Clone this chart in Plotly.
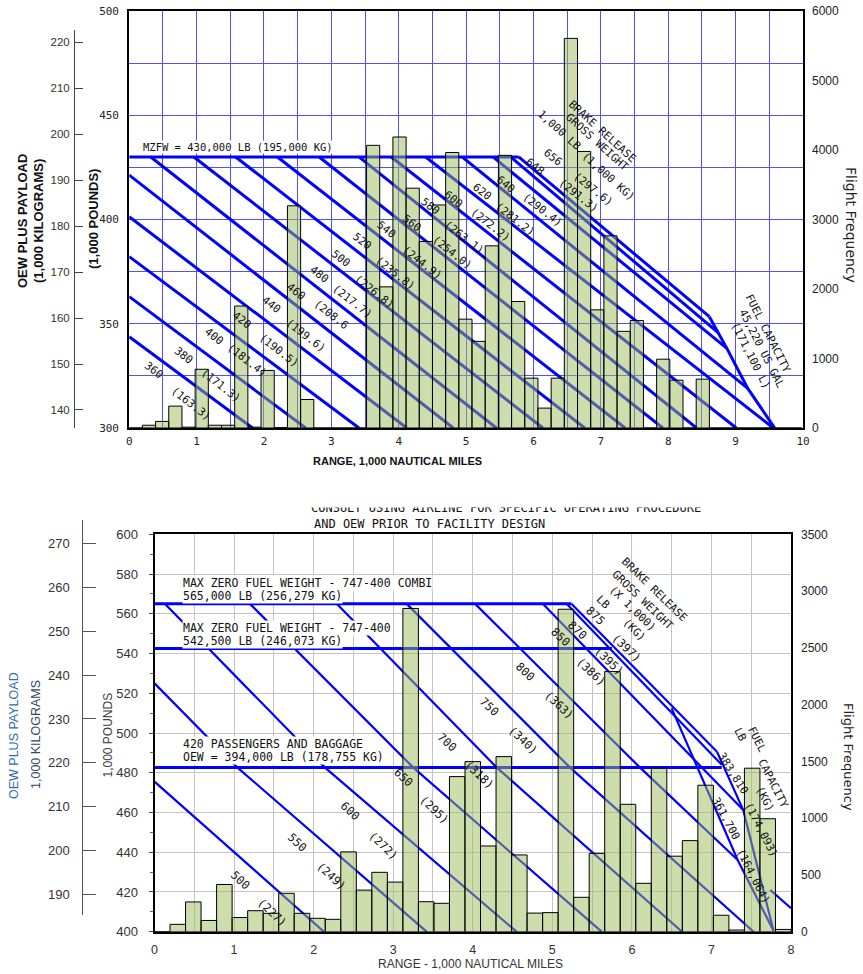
import plotly.graph_objects as go

W, H = 863, 974
LB_PER_KG = 2.20462

# ====================== DATA ======================
# ---- Top chart: flight frequency per 200-nm bin (bin start, 1,000 NM) ----
top_bin_start = [0.0, 0.2, 0.4, 0.6, 0.8, 1.0, 1.2, 1.4, 1.6, 1.8,
                 2.0, 2.2, 2.4, 2.6, 2.8, 3.0, 3.2, 3.4, 3.6, 3.8,
                 4.0, 4.2, 4.4, 4.6, 4.8, 5.0, 5.2, 5.4, 5.6, 5.8,
                 6.0, 6.2, 6.4, 6.6, 6.8, 7.0, 7.2, 7.4, 7.6, 7.8,
                 8.0, 8.2, 8.4, 8.6, 8.8, 9.0, 9.2, 9.4, 9.6, 9.8, 10.0]
top_freq = [0, 40, 95, 315, 12, 845, 40, 40, 1755, 12,
            828, 5, 3197, 410, 0, 0, 0, 0, 4067, 2031,
            4187, 3451, 2684, 3209, 3964, 1566, 1247, 2621, 3923, 1820,
            717, 286, 717, 5606, 3979, 1700, 2765, 1391, 1547, 0,
            990, 688, 0, 703, 0, 0, 0, 0, 0, 0, 0]

# ---- Bottom chart: flight frequency per 200-nm bin ----
bot_bin_start = [0.0, 0.2, 0.4, 0.6, 0.8, 1.0, 1.2, 1.4, 1.6, 1.8,
                 2.0, 2.2, 2.4, 2.6, 2.8, 3.0, 3.2, 3.4, 3.6, 3.8,
                 4.0, 4.2, 4.4, 4.6, 4.8, 5.0, 5.2, 5.4, 5.6, 5.8,
                 6.0, 6.2, 6.4, 6.6, 6.8, 7.0, 7.2, 7.4, 7.6, 7.8, 8.0]
bot_freq = [0, 65, 262, 99, 416, 125, 185, 162, 338, 162,
            118, 109, 703, 366, 523, 437, 2847, 264, 250, 1366,
            1498, 755, 1542, 676, 164, 168, 2840, 303, 690, 2291,
            1122, 426, 1440, 665, 802, 1290, 145, 15, 1440, 995, 20]

# ---- Top payload/range diagram (x: 1,000 NM, y: 1,000 LB) ----
top_brgw_lb = ["360", "380", "400", "420", "440", "460", "480", "500", "520",
               "540", "560", "580", "600", "620", "640", "648", "656"]
top_brgw_kg = ["(163.3)", "(171.3)", "(181.4)", "(190.5)", "(199.6)", "(208.6",
               "(217.7)", "(226.8)", "(235.8)", "(244.9)", "(254.0)", "(263.1)",
               "(272.2)", "(281.2)", "(290.4)", "(291.3)", "(297.6)"]
top_line_x = [[0, 1.83], [0, 2.62], [0, 3.41], [0, 4.12], [0, 4.81],
              [0.32, 5.45], [0.96, 6.14], [1.58, 6.76], [2.20, 7.36],
              [2.82, 7.92], [3.41, 8.42], [3.89, 9.01], [4.40, 9.56],
              [4.94, 9.18], [5.40, 8.87], [5.66, 8.74], [5.78, 8.61]]
top_line_y = [[343.8, 300], [363.0, 300], [382.2, 300], [401.3, 300], [421.3, 300],
              [430, 300], [430, 300], [430, 300], [430, 300],
              [430, 300], [430, 300], [430, 300], [430, 300],
              [430, 319.0], [430, 338.2], [430, 345.7], [430, 353.4]]
top_mzfw_x = [0, 5.78]
top_mzfw_y = [430, 430]
top_fuel_x = [8.61, 8.74, 8.87, 9.18, 9.58]
top_fuel_y = [353.4, 345.7, 338.2, 319.0, 300]
top_grid_x = [0, 0.5, 1, 1.5, 2, 2.5, 3, 3.5, 4, 4.5, 5, 5.5, 6, 6.5, 7, 7.5, 8, 8.5, 9, 9.5, 10]
top_grid_y = [300, 325, 350, 375, 400, 425, 450, 475, 500]

# ---- Bottom payload/range diagram ----
bot_brgw_lb = ["500", "550", "600", "650", "700", "750", "800", "850", "870", "875"]
bot_brgw_kg = ["(227)", "(249)", "(272)", "(295)", "(318)", "(340)", "(363)",
               "(386)", "(395)", "(397)"]
bot_line_x = [[0, 2.13], [0, 1.04, 3.42], [0.13, 2.14, 4.55], [1.20, 3.25, 5.62],
              [2.29, 4.30, 6.63], [3.17, 5.22, 7.53],
              [4.03, 6.10, 7.33, None, 7.74, 8.0],
              [4.88, 7.40], [5.18, 7.13], [5.24, 7.07]]
bot_line_y = [[475.5, 400], [525.0, 482.7, 400], [565, 482.7, 400], [565, 482.7, 400],
              [565, 482.7, 400], [565, 482.7, 400],
              [565, 482.7, 436.1, None, 421.0, 411.8],
              [565, 461.2], [565, 484.0], [565, 490.6]]
bot_combi_x, bot_combi_y = [0, 5.24], [565, 565]
bot_mzfw_x, bot_mzfw_y = [0, 5.75], [542.5, 542.5]
bot_oew_x, bot_oew_y = [0, 7.13], [482.7, 482.7]
bot_fuel383_x, bot_fuel383_y = [7.07, 7.40, 7.78], [490.6, 461.2, 400.5]
bot_fuel361_x, bot_fuel361_y = [6.50, 7.33, 7.78], [512.4, 436.1, 400.5]

# ====================== LABEL PLACEMENT ======================
top_lb_label_xy = [(0.37, 327.8), (0.81, 335.0), (1.26, 343.8), (1.68, 351.8), (2.10, 359.0),
                   (2.47, 365.4), (2.82, 373.4), (3.14, 381.4), (3.46, 389.4), (3.81, 395.0),
                   (4.20, 398.2), (4.47, 406.1), (4.81, 409.4), (5.23, 413.3), (5.59, 417.0),
                   (6.02, 425.3), (6.29, 429.8)]
top_kg_label_xy = [(0.91, 311.8), (1.36, 320.6), (1.75, 332.6), (2.22, 337.4), (2.62, 344.6),
                   (2.99, 354.2), (3.31, 360.6), (3.63, 365.4), (3.95, 374.2), (4.34, 379.4),
                   (4.79, 384.2), (4.97, 391.5), (5.35, 397.4), (5.73, 400.2), (6.12, 404.6),
                   (6.66, 411.3), (6.89, 414.5)]
bot_lb_label_xy = [(1.078, 426.0), (1.803, 444.8), (2.461, 460.9), (3.124, 477.7), (3.677, 495.6),
                   (4.214, 513.2), (4.667, 530.9), (5.103, 548.2), (5.313, 551.8), (5.547, 558.9)]
bot_kg_label_xy = [(1.488, 409.6), (2.222, 428.0), (2.881, 443.1), (3.522, 461.2), (4.088, 478.9),
                   (4.633, 496.5), (5.086, 514.1), (5.493, 530.9), (5.715, 536.4), (5.933, 542.6)]

# ====================== STYLE ======================
CAD = "DejaVu Sans Mono, monospace"
SANS = "Liberation Sans, Arial, sans-serif"
VERD = "DejaVu Sans, Verdana, sans-serif"
BLUE = "#0000ff"
GRID_BLUE = "#5050ff"
GRID_GREY = "#c4c4c4"
BAR_FILL = "rgba(155,187,89,0.5)"
TXT = "#111111"

# plot frames in pixels (left, right, top, bottom)
TL, TR, TT, TB = 129.2, 803.0, 11.0, 428.0
BL, BR, BT, BB = 154.5, 791.0, 534.3, 931.7


def pdx(px):
    return px / W


def pdy(py):
    return 1 - py / H


def top_lb_at(py):
    return 300 + (TB - py) * 200.0 / (TB - TT)


def bot_lb_at(py):
    return 400 + (BB - py) * 200.0 / (BB - BT)


fig = go.Figure()


def add_line(xs, ys, xa, ya, width):
    fig.add_trace(go.Scatter(x=xs, y=ys, mode="lines", xaxis=xa, yaxis=ya,
                             line=dict(color=BLUE, width=width),
                             hoverinfo="skip", showlegend=False))


# top diagram
for xs, ys in zip(top_line_x, top_line_y):
    add_line(xs, ys, "x", "y", 3)
add_line(top_mzfw_x, top_mzfw_y, "x", "y", 3)
add_line(top_fuel_x, top_fuel_y, "x", "y", 3)

# bottom diagram
for xs, ys in zip(bot_line_x, bot_line_y):
    add_line(xs, ys, "x2", "y2", 2.2)
add_line(bot_combi_x, bot_combi_y, "x2", "y2", 3)
add_line(bot_mzfw_x, bot_mzfw_y, "x2", "y2", 3)
add_line(bot_oew_x, bot_oew_y, "x2", "y2", 3)
add_line(bot_fuel383_x, bot_fuel383_y, "x2", "y2", 2.2)
add_line(bot_fuel361_x, bot_fuel361_y, "x2", "y2", 2.2)

# histograms (drawn on overlaying axes, above the diagrams)
fig.add_trace(go.Bar(x=top_bin_start, y=top_freq, width=0.2, offset=0,
                     xaxis="x3", yaxis="y3", marker=dict(color=BAR_FILL, line=dict(color="black", width=1)),
                     hoverinfo="skip", showlegend=False))
fig.add_trace(go.Bar(x=bot_bin_start, y=bot_freq, width=0.2, offset=0,
                     xaxis="x4", yaxis="y4", marker=dict(color=BAR_FILL, line=dict(color="black", width=1)),
                     hoverinfo="skip", showlegend=False))

# anchors for the kilogram axes
fig.add_trace(go.Scatter(x=[None], y=[None], xaxis="x5", yaxis="y5", showlegend=False))
fig.add_trace(go.Scatter(x=[None], y=[None], xaxis="x6", yaxis="y6", showlegend=False))

# ====================== ANNOTATIONS ======================
ann = []


def text(t, x, y, xref, yref, size, family=CAD, angle=0, color=TXT, xanchor="center",
         yanchor="middle", **kw):
    d = dict(text=t, x=x, y=y, xref=xref, yref=yref, showarrow=False, textangle=angle,
             font=dict(family=family, size=size, color=color), xanchor=xanchor, yanchor=yanchor)
    d.update(kw)
    ann.append(d)


# --- top chart diagram text ---
text("MZFW = 430,000 LB (195,000 KG)", 0.19, 434.8, "x", "y", 10.5, xanchor="left",
     bgcolor="white", borderpad=0)
for t, (x, y) in zip(top_brgw_lb, top_lb_label_xy):
    text(t, x, y, "x", "y", 11, angle=38)
for t, (x, y) in zip(top_brgw_kg, top_kg_label_xy):
    text(t, x, y, "x", "y", 11, angle=38)
text("BRAKE RELEASE", 7.02, 442.1, "x", "y", 11, angle=42)
text("GROSS WEIGHT", 6.95, 436.9, "x", "y", 11, angle=42)
text("1,000 LB", 6.39, 442.9, "x", "y", 11, angle=42)
text("(1,000 KG)", 7.11, 420.5, "x", "y", 11, angle=42)
text("FUEL CAPACITY", 9.48, 345.4, "x", "y", 11, angle=63)
text("45,220 US GAL", 9.38, 337.9, "x", "y", 11, angle=63)
text("(171,100 L)", 9.22, 334.7, "x", "y", 11, angle=63)

# --- top chart axis titles ---
text("<b>OEW PLUS PAYLOAD</b>", pdx(22), pdy(221), "paper", "paper", 13, family=SANS, angle=-90, color="#111")
text("<b>(1,000 KILOGRAMS)</b>", pdx(38), pdy(221), "paper", "paper", 13, family=SANS, angle=-90, color="#111")
text("<b>(1,000 POUNDS)</b>", pdx(93), pdy(219), "paper", "paper", 13, family=SANS, angle=-90, color="#111")
text("<b>RANGE, 1,000 NAUTICAL MILES</b>", pdx(397), pdy(461), "paper", "paper", 11, family=SANS, color="#111")
text("Flight Frequency", pdx(851), pdy(225), "paper", "paper", 14, family=VERD, angle=90, color="#222")

# --- bottom chart diagram text ---
text("MAX ZERO FUEL WEIGHT - 747-400 COMBI", 0.35, 575.6, "x2", "y2", 11.5, xanchor="left", bgcolor="white", borderpad=0)
text("565,000 LB (256,279 KG)", 0.35, 569.0, "x2", "y2", 11.5, xanchor="left", bgcolor="white", borderpad=0)
text("MAX ZERO FUEL WEIGHT - 747-400", 0.35, 552.8, "x2", "y2", 11.5, xanchor="left", bgcolor="white", borderpad=0)
text("542,500 LB (246,073 KG)", 0.35, 546.1, "x2", "y2", 11.5, xanchor="left", bgcolor="white", borderpad=0)
text("420 PASSENGERS AND BAGGAGE", 0.35, 494.5, "x2", "y2", 11.5, xanchor="left", bgcolor="white", borderpad=0)
text("OEW = 394,000 LB (178,755 KG)", 0.35, 487.9, "x2", "y2", 11.5, xanchor="left", bgcolor="white", borderpad=0)
for t, (x, y) in zip(bot_brgw_lb, bot_lb_label_xy):
    text(t, x, y, "x2", "y2", 11.5, angle=43)
for t, (x, y) in zip(bot_brgw_kg, bot_kg_label_xy):
    text(t, x, y, "x2", "y2", 11.5, angle=43)
text("BRAKE RELEASE", 6.277, 572.0, "x2", "y2", 11, angle=44)
text("GROSS WEIGHT", 6.142, 566.9, "x2", "y2", 11, angle=44)
text("(X 1,000)", 6.009, 562.8, "x2", "y2", 11, angle=44)
text("LB", 5.639, 565.6, "x2", "y2", 11, angle=44)
text("(KG)", 6.038, 551.8, "x2", "y2", 11, angle=44)
text("383,810", 7.274, 479.7, "x2", "y2", 11, angle=58)
text("361,700", 7.182, 457.1, "x2", "y2", 11, angle=62)
text("(174,093)", 7.619, 451.2, "x2", "y2", 11, angle=63)
text("(164,064)", 7.526, 427.7, "x2", "y2", 11, angle=63)
text("FUEL", 7.568, 496.5, "x2", "y2", 11, angle=63)
text("LB", 7.358, 499.0, "x2", "y2", 11, angle=63)
text("CAPACITY", 7.778, 474.7, "x2", "y2", 11, angle=63)
text("(KG)", 7.673, 466.4, "x2", "y2", 11, angle=63)

# clipped note above the bottom chart
text("CONSULT USING AIRLINE FOR SPECIFIC OPERATING PROCEDURE", pdx(506), pdy(508), "paper", "paper", 12)
text(" ", pdx(506), pdy(500.5), "paper", "paper", 8, bgcolor="white", width=440, height=13, borderpad=0)
text("AND OEW PRIOR TO FACILITY DESIGN", pdx(312), pdy(524), "paper", "paper", 12, xanchor="left")

# --- bottom chart axis titles ---
text("OEW PLUS PAYLOAD", pdx(14), pdy(736), "paper", "paper", 12.5, family=SANS, angle=-90, color="#2a6db0")
text("1,000 KILOGRAMS", pdx(36), pdy(735), "paper", "paper", 12.5, family=SANS, angle=-90, color="#34465e")
text("1,000 POUNDS", pdx(107.5), pdy(735), "paper", "paper", 12, family=SANS, angle=-90, color="#3a3a3a")
text("RANGE - 1,000 NAUTICAL MILES", pdx(471), pdy(964), "paper", "paper", 12, family=SANS, color="#333")
text("Flight Frequency", pdx(849), pdy(757), "paper", "paper", 13, family=VERD, angle=90, color="#222")

# ====================== LAYOUT ======================
top_xdom = [pdx(TL), pdx(TR)]
top_ydom = [pdy(TB), pdy(TT)]
bot_xdom = [pdx(BL), pdx(BR)]
bot_ydom = [pdy(BB), pdy(BT)]

frame = dict(showline=True, mirror=True, linecolor="black", linewidth=2, zeroline=False)

fig.update_layout(
    width=W, height=H, margin=dict(l=0, r=0, t=0, b=0, autoexpand=False),
    paper_bgcolor="white", plot_bgcolor="rgba(0,0,0,0)", showlegend=False,
    # ---- top diagram axes ----
    xaxis=dict(domain=top_xdom, anchor="y", range=[0, 10], tickmode="array",
               tickvals=top_grid_x,
               ticktext=[("%g" % v) if v == int(v) else "" for v in top_grid_x],
               showgrid=True, gridcolor=GRID_BLUE, gridwidth=1,
               ticks="", ticklabelstandoff=2,
               tickfont=dict(family=CAD, size=11, color="#222"), **frame),
    yaxis=dict(domain=top_ydom, anchor="x", range=[300, 500], tickmode="array",
               tickvals=top_grid_y,
               ticktext=[str(v) if v % 50 == 0 else "" for v in top_grid_y],
               showgrid=True, gridcolor=GRID_BLUE, gridwidth=1,
               ticks="", ticklabelstandoff=6,
               tickfont=dict(family=CAD, size=11, color="#222"), **frame),
    xaxis3=dict(overlaying="x", anchor="y3", range=[0, 10.22], visible=False),
    yaxis3=dict(overlaying="y", anchor="x3", side="right", range=[0, 6000], tick0=0, dtick=1000,
                showgrid=False, zeroline=False, showline=False, ticks="", ticklabelstandoff=8,
                tickfont=dict(family=SANS, size=12, color="#222")),
    xaxis5=dict(domain=top_xdom, anchor="y5", range=[0, 1], visible=False),
    yaxis5=dict(domain=[pdy(TB), pdy(30)], anchor="free", position=pdx(74), side="left",
                range=[top_lb_at(TB) / LB_PER_KG, top_lb_at(30) / LB_PER_KG],
                tick0=140, dtick=10, ticks="inside", ticklen=8, tickcolor="#444",
                showline=True, linecolor="#444", linewidth=1, showgrid=False, zeroline=False,
                ticklabelstandoff=2, tickfont=dict(family=SANS, size=11.5, color="#333")),
    # ---- bottom diagram axes ----
    xaxis2=dict(domain=bot_xdom, anchor="y2", range=[0, 8], tick0=0, dtick=1,
                showgrid=True, gridcolor=GRID_GREY, gridwidth=1,
                minor=dict(dtick=0.5, showgrid=True, gridcolor=GRID_GREY, gridwidth=1),
                ticks="", ticklabelstandoff=5,
                tickfont=dict(family=SANS, size=12.5, color="#333"), **frame),
    yaxis2=dict(domain=bot_ydom, anchor="x2", range=[400, 600], tick0=400, dtick=20,
                showgrid=True, gridcolor=GRID_GREY, gridwidth=1,
                ticks="outside", ticklen=4, tickcolor="#444",
                minor=dict(dtick=10, ticks="outside", ticklen=3, tickcolor="#666", showgrid=False),
                ticklabelstandoff=8,
                tickfont=dict(family=SANS, size=13, color="#333"), **frame),
    xaxis4=dict(overlaying="x2", anchor="y4", range=[0, 8.2], visible=False),
    yaxis4=dict(overlaying="y2", anchor="x4", side="right", range=[0, 3500], tick0=0, dtick=500,
                showgrid=False, zeroline=False, showline=False, ticks="", ticklabelstandoff=9,
                tickfont=dict(family=SANS, size=12, color="#222")),
    xaxis6=dict(domain=bot_xdom, anchor="y6", range=[0, 1], visible=False),
    yaxis6=dict(domain=[pdy(915), pdy(520)], anchor="free", position=pdx(82.3), side="left",
                range=[bot_lb_at(915) / LB_PER_KG, bot_lb_at(520) / LB_PER_KG],
                tick0=190, dtick=10, ticks="inside", ticklen=13, tickcolor="#555",
                showline=True, linecolor="#555", linewidth=1, showgrid=False, zeroline=False,
                ticklabelstandoff=10, tickfont=dict(family=SANS, size=13, color="#333")),
    annotations=ann,
)

# remove the browser's default page margin so the 863x974 figure fills the window exactly
fig.write_html("out.html",
               config={"displayModeBar": False},
               post_script="document.body.style.margin='0px';document.body.style.padding='0px';")
